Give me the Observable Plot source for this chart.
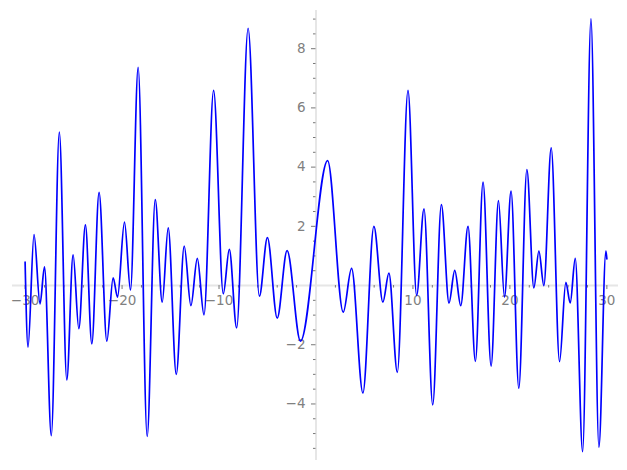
<!DOCTYPE html>
<html><head><meta charset="utf-8">
<script src="https://cdn.jsdelivr.net/npm/d3@7"></script>
<script src="https://cdn.jsdelivr.net/npm/@observablehq/plot@0.6"></script>
<style>html,body{margin:0;padding:0;background:#fff} svg{display:block}</style>
</head><body><div id="chart"></div>
<script>
const xs = [-30, -29.7, -29.08, -28.46, -28.0, -27.3, -26.47, -25.7, -25.05, -24.46, -23.78, -23.12, -22.37, -21.57, -20.92, -20.47, -19.75, -19.13, -18.34, -17.41, -16.58, -15.86, -15.24, -14.41, -13.59, -12.9, -12.24, -11.55, -10.56, -9.56, -8.94, -8.18, -7.0, -5.84, -5.01, -4.0, -2.98, -1.6, 1.2, 2.81, 3.67, 4.84, 5.97, 6.9, 7.52, 8.39, 9.49, 10.38, 11.14, 12.04, 12.93, 13.72, 14.31, 14.93, 15.68, 16.44, 17.23, 18.06, 18.82, 19.44, 20.12, 20.92, 21.75, 22.47, 22.99, 23.5, 24.26, 25.12, 25.77, 26.22, 26.74, 27.5, 28.36, 29.18, 29.9, 30.0];
const ys = [0.79, -2.08, 1.72, -0.62, 0.63, -5.07, 5.18, -3.19, 1.04, -1.46, 2.05, -1.97, 3.15, -1.88, 0.26, -0.39, 2.14, -0.15, 7.37, -5.1, 2.9, -0.56, 1.95, -3.0, 1.33, -0.68, 0.92, -0.99, 6.59, -0.28, 1.22, -1.43, 8.69, -0.36, 1.62, -1.1, 1.18, -1.88, 4.22, -0.9, 0.58, -3.63, 2.0, -0.56, 0.42, -2.93, 6.59, -0.34, 2.59, -4.03, 2.73, -0.59, 0.51, -0.68, 2.0, -2.56, 3.49, -2.72, 2.87, -0.39, 3.19, -3.47, 3.92, -0.08, 1.16, 0.0, 4.65, -2.57, 0.11, -0.59, 0.92, -5.61, 9.01, -5.46, 1.16, 0.9];
const xMajor = [-30, -20, -10, 10, 20, 30];
const xMinor = [-28, -26, -24, -22, -18, -16, -14, -12, -8, -6, -4, -2, 2, 4, 6, 8, 12, 14, 16, 18, 22, 24, 26, 28];
const yMajor = [-4, -2, 2, 4, 6, 8];
const yMinor = [-5.5, -5, -4.5, -3.5, -3, -2.5, -1.5, -1, -0.5, 0.5, 1, 1.5, 2.5, 3, 3.5, 4.5, 5, 5.5, 6.5, 7, 7.5, 8.5, 9];

const points = xs.map((x, i) => ({x, y: ys[i]}));
const fmt = d => d < 0 ? "\u2212" + Math.abs(d) : String(d);
const axisCol = "#e6e6e6", tickCol = "#777", labelCol = "#808080";

const chart = Plot.plot({
  width: 627, height: 470,
  marginLeft: 12, marginRight: 9, marginTop: 10, marginBottom: 10,
  x: {domain: [-31.3, 31.2], axis: null},
  y: {domain: [-5.91, 9.29], axis: null},
  style: {fontFamily: "DejaVu Sans", background: "white"},
  marks: [
    Plot.ruleY([0], {stroke: axisCol, strokeWidth: 2}),
    Plot.ruleX([0], {stroke: axisCol, strokeWidth: 2}),
    Plot.ruleX(xMinor, {x: d => d, y1: 0, y2: 0, insetTop: 0, insetBottom: -2.5, stroke: tickCol}),
    Plot.ruleX(xMajor, {x: d => d, y1: 0, y2: 0, insetTop: 0, insetBottom: -4, stroke: tickCol}),
    Plot.ruleY(yMinor, {y: d => d, x1: 0, x2: 0, insetLeft: -2.5, insetRight: 0, stroke: tickCol}),
    Plot.ruleY(yMajor, {y: d => d, x1: 0, x2: 0, insetLeft: -4.5, insetRight: 0, stroke: tickCol}),
    Plot.text(xMajor, {x: d => d, y: 0, text: fmt, dy: 15, fill: labelCol, fontSize: 13.5}),
    Plot.text(yMajor, {x: 0, y: d => d, text: fmt, textAnchor: "end", dx: -10.5, fill: labelCol, fontSize: 13.5}),
    Plot.line(points, {x: "x", y: "y", curve: "monotone-x", stroke: "#0000ff", strokeWidth: 1.7})
  ]
});
document.getElementById("chart").appendChild(chart);
</script>
</body></html>
